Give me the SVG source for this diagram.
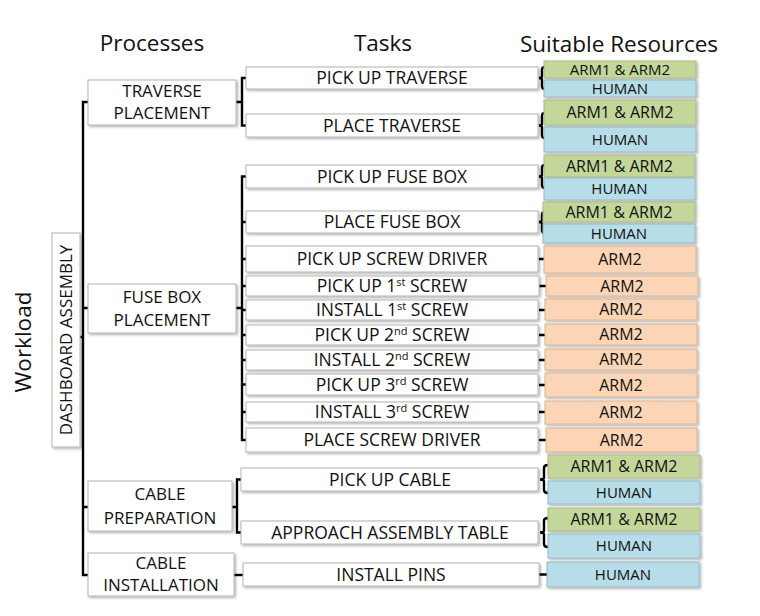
<svg xmlns="http://www.w3.org/2000/svg" width="760" height="616" viewBox="0 0 760 616">
<style>
text{font-family:"Open Sans","Liberation Sans",sans-serif;fill:#111;text-anchor:middle}
.hd{font-size:22.5px}
.pr{font-size:17px}
.tk{font-size:17.5px}
.rs{font-size:16px}
.hu{font-size:15px}
.sm{font-size:15px}
.wb{fill:#fff;stroke:#b4b4b4;stroke-width:1;filter:url(#sh)}
.g{fill:#c4d79b;stroke:#a9b98a;stroke-width:1;filter:url(#sh)}
.b{fill:#b7dde8;stroke:#98b9c2;stroke-width:1;filter:url(#sh)}
.o{fill:#fbd5b5;stroke:#d8b497;stroke-width:1;filter:url(#sh)}
.ln{fill:none;stroke:#000;stroke-width:2.4}
.sup{font-size:11px}
</style>
<defs>
<filter id="sh" x="-5%" y="-20%" width="115%" height="160%">
<feDropShadow dx="1.5" dy="1.5" stdDeviation="0.8" flood-color="#000" flood-opacity="0.3"/>
</filter>
</defs>
<rect width="760" height="616" fill="#fff"/>

<g id="headers">
<text class="hd" x="152" y="51">Processes</text>
<text class="hd" x="383" y="51">Tasks</text>
<text class="hd" x="619" y="52">Suitable Resources</text>
<text class="hd" transform="translate(31,342) rotate(-90)">Workload</text>
</g>

<g id="connectors">
<path class="ln" d="M88,102 H83 V575 H88"/>
<path class="ln" d="M83,308 H88 M83,507 H88 M83,337 H80"/>
<path class="ln" d="M246,78 H242 V125.5 H246 M242,102 H236"/>
<path class="ln" d="M246,176.5 H242 V440 H246 M242,308 H236 M242,222 H246 M242,259 H246 M242,286 H246 M242,310 H246 M242,335 H246 M242,360 H246 M242,384.5 H246 M242,412 H246"/>
<path class="ln" d="M241,479.5 H237 V532.5 H241 M237,507 H232"/>
<path class="ln" d="M234,575 H243"/>
<path class="ln" d="M545,67 Q542,67 542,70 V76 Q542,78 539,78 Q542,78 542,80 V86 Q542,89 545,89"/>
<path class="ln" d="M545,113 Q542,113 542,116 V123.5 Q542,125.5 539,125.5 Q542,125.5 542,127.5 V135 Q542,138 545,138"/>
<path class="ln" d="M545,165 Q542,165 542,168 V174.5 Q542,176.5 539,176.5 Q542,176.5 542,178.5 V185 Q542,188 545,188"/>
<path class="ln" d="M545,212 Q542,212 542,215 V220 Q542,222 539,222 Q542,222 542,224 V230 Q542,233 545,233"/>
<path class="ln" d="M548,465 Q544,465 544,468 V477.5 Q544,479.5 540,479.5 Q544,479.5 544,481.5 V490 Q544,493 548,493"/>
<path class="ln" d="M548,518 Q544,518 544,521 V530.5 Q544,532.5 540,532.5 Q544,532.5 544,534.5 V544 Q544,547 548,547"/>
<path class="ln" d="M539,259 H545 M539,286 H546 M539,310 H545 M539,335 H545 M539,360 H545 M539,385 H545 M539,412 H545 M539,440 H546 M539,574.5 H547"/>
</g>

<g id="workload-dashboard">
<rect class="wb" x="52" y="233" width="28" height="214"/>
<text class="pr" transform="translate(72,340) rotate(-90)">DASHBOARD ASSEMBLY</text>
</g>

<g id="p-traverse">
<rect class="wb" x="88" y="80" width="148" height="45"/>
<text class="pr" x="162" y="97">TRAVERSE</text>
<text class="pr" x="162" y="119">PLACEMENT</text>
</g>
<g id="p-fusebox">
<rect class="wb" x="88" y="284" width="148" height="49"/>
<text class="pr" x="162" y="303">FUSE BOX</text>
<text class="pr" x="162" y="326">PLACEMENT</text>
</g>
<g id="p-cableprep">
<rect class="wb" x="88" y="481" width="144" height="50"/>
<text class="pr" x="160" y="499.5">CABLE</text>
<text class="pr" x="160" y="523.5">PREPARATION</text>
</g>
<g id="p-cableinst">
<rect class="wb" x="88" y="553" width="146" height="43"/>
<text class="pr" x="161" y="569">CABLE</text>
<text class="pr" x="161" y="591">INSTALLATION</text>
</g>

<g id="t1"><rect class="wb" x="246" y="67" width="292" height="22"/><text class="tk" x="392" y="84.2">PICK UP TRAVERSE</text></g>
<g id="t2"><rect class="wb" x="246" y="114" width="292" height="23"/><text class="tk" x="392" y="131.7">PLACE TRAVERSE</text></g>
<g id="t3"><rect class="wb" x="246" y="165" width="292" height="23"/><text class="tk" x="392" y="182.7">PICK UP FUSE BOX</text></g>
<g id="t4"><rect class="wb" x="246" y="211" width="292" height="22"/><text class="tk" x="392" y="228.2">PLACE FUSE BOX</text></g>
<g id="t5"><rect class="wb" x="246" y="246" width="292" height="26"/><text class="tk" x="392" y="265.2">PICK UP SCREW DRIVER</text></g>
<g id="t6"><rect class="wb" x="246" y="276" width="293" height="20"/><text class="tk" x="392" y="292.2">PICK UP 1<tspan class="sup" dy="-6">st</tspan><tspan dy="6"> SCREW</tspan></text></g>
<g id="t7"><rect class="wb" x="246" y="300" width="292" height="20"/><text class="tk" x="392" y="316.2">INSTALL 1<tspan class="sup" dy="-6">st</tspan><tspan dy="6"> SCREW</tspan></text></g>
<g id="t8"><rect class="wb" x="246" y="325" width="292" height="20"/><text class="tk" x="392" y="341.2">PICK UP 2<tspan class="sup" dy="-6">nd</tspan><tspan dy="6">  SCREW</tspan></text></g>
<g id="t9"><rect class="wb" x="246" y="350" width="292" height="20"/><text class="tk" x="392" y="366.2">INSTALL 2<tspan class="sup" dy="-6">nd</tspan><tspan dy="6">  SCREW</tspan></text></g>
<g id="t10"><rect class="wb" x="246" y="374" width="292" height="21"/><text class="tk" x="392" y="390.7">PICK UP 3<tspan class="sup" dy="-6">rd</tspan><tspan dy="6"> SCREW</tspan></text></g>
<g id="t11"><rect class="wb" x="246" y="402" width="292" height="20"/><text class="tk" x="392" y="418.2">INSTALL 3<tspan class="sup" dy="-6">rd</tspan><tspan dy="6">  SCREW</tspan></text></g>
<g id="t12"><rect class="wb" x="246" y="428" width="292" height="24"/><text class="tk" x="392" y="446.2">PLACE SCREW DRIVER</text></g>
<g id="t13"><rect class="wb" x="241" y="468" width="297" height="23"/><text class="tk" x="390" y="485.7">PICK UP CABLE</text></g>
<g id="t14"><rect class="wb" x="241" y="521" width="297" height="23"/><text class="tk" x="390" y="538.7">APPROACH ASSEMBLY TABLE</text></g>
<g id="t15"><rect class="wb" x="243" y="563" width="296" height="23"/><text class="tk" x="391" y="580.7">INSTALL PINS</text></g>

<g id="r1"><rect class="g" x="544" y="61" width="152" height="17"/><text class="sm" x="620" y="74.8">ARM1 &amp; ARM2</text></g>
<g id="r2"><rect class="b" x="544" y="80" width="152" height="17"/><text class="sm" x="620" y="93.8">HUMAN</text></g>
<g id="r3"><rect class="g" x="544" y="100" width="152" height="25"/><text class="rs" x="620" y="118.2">ARM1 &amp; ARM2</text></g>
<g id="r4"><rect class="b" x="544" y="127" width="152" height="25"/><text class="hu" x="620" y="144.9">HUMAN</text></g>
<g id="r5"><rect class="g" x="544" y="155" width="151" height="22"/><text class="rs" x="619.5" y="171.7">ARM1 &amp; ARM2</text></g>
<g id="r6"><rect class="b" x="544" y="178" width="151" height="22"/><text class="hu" x="619.5" y="194.4">HUMAN</text></g>
<g id="r7"><rect class="g" x="543" y="202" width="152" height="20"/><text class="rs" x="619" y="217.7">ARM1 &amp; ARM2</text></g>
<g id="r8"><rect class="b" x="543" y="224" width="152" height="19"/><text class="hu" x="619" y="238.9">HUMAN</text></g>
<g id="r9"><rect class="o" x="544" y="246" width="152" height="27"/><text class="rs" x="620" y="265.2">ARM2</text></g>
<g id="r10"><rect class="o" x="546" y="276" width="152" height="20"/><text class="rs" x="622" y="291.7">ARM2</text></g>
<g id="r11"><rect class="o" x="545" y="299" width="152" height="21"/><text class="rs" x="621" y="315.2">ARM2</text></g>
<g id="r12"><rect class="o" x="545" y="324" width="152" height="21"/><text class="rs" x="621" y="340.2">ARM2</text></g>
<g id="r13"><rect class="o" x="545" y="349" width="152" height="21"/><text class="rs" x="621" y="365.2">ARM2</text></g>
<g id="r14"><rect class="o" x="545" y="373" width="152" height="24"/><text class="rs" x="621" y="390.7">ARM2</text></g>
<g id="r15"><rect class="o" x="545" y="401" width="152" height="23"/><text class="rs" x="621" y="418.2">ARM2</text></g>
<g id="r16"><rect class="o" x="546" y="428" width="151" height="24"/><text class="rs" x="621.5" y="445.7">ARM2</text></g>
<g id="r17"><rect class="g" x="548" y="455" width="152" height="23"/><text class="rs" x="624" y="472.2">ARM1 &amp; ARM2</text></g>
<g id="r18"><rect class="b" x="548" y="481" width="152" height="23"/><text class="hu" x="624" y="497.9">HUMAN</text></g>
<g id="r19"><rect class="g" x="548" y="508" width="152" height="23"/><text class="rs" x="624" y="525.2">ARM1 &amp; ARM2</text></g>
<g id="r20"><rect class="b" x="548" y="534" width="152" height="24"/><text class="hu" x="624" y="551.4">HUMAN</text></g>
<g id="r21"><rect class="b" x="547" y="562" width="152" height="25"/><text class="hu" x="623" y="579.9">HUMAN</text></g>
</svg>
